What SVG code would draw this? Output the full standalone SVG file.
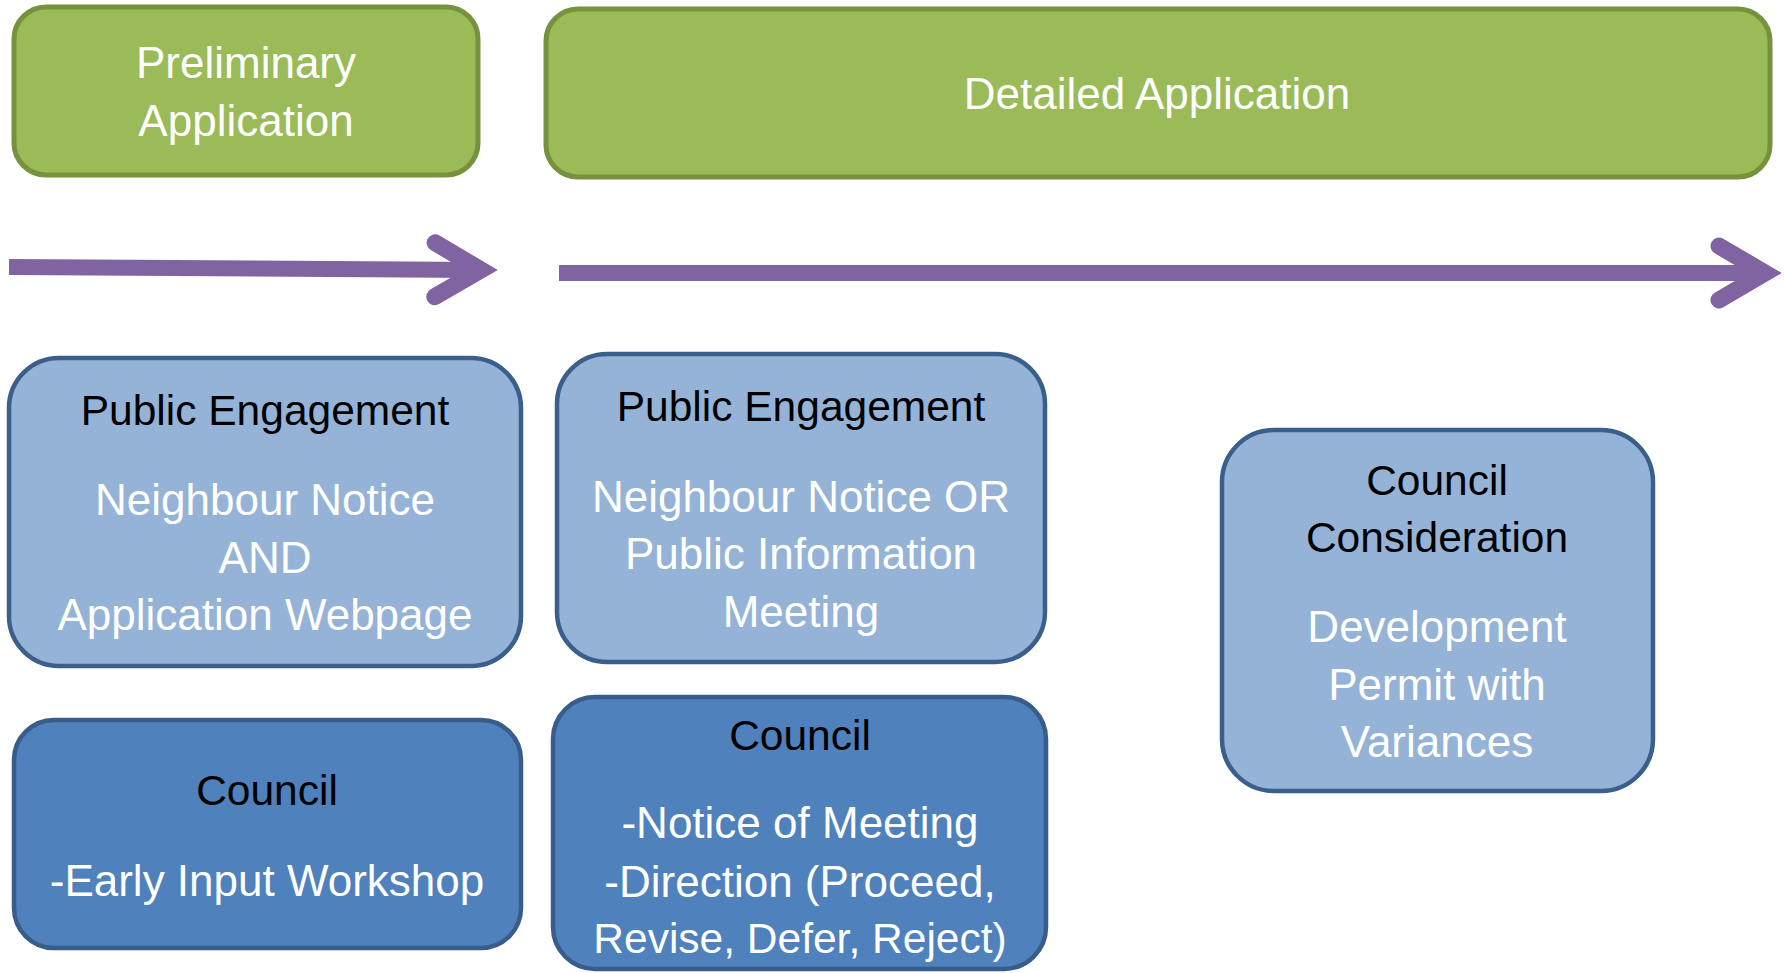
<svg xmlns="http://www.w3.org/2000/svg" width="1784" height="973" viewBox="0 0 1784 973">
<style>
.green{fill:#9BBB59;stroke:#76923C;stroke-width:5}
.light{fill:#95B3D7;stroke:#3A5F8B;stroke-width:4.5}
.dark{fill:#4F81BD;stroke:#385D8A;stroke-width:4.5}
text{font-family:"Liberation Sans",Arial,sans-serif;font-size:44px;text-anchor:middle}
.w{fill:#FFFFFF}
.k{fill:#000000;font-size:42.5px}
.flow{stroke:#8064A2;stroke-width:16;fill:none;stroke-linecap:butt}
</style>
<defs>
<marker id="chev" markerUnits="userSpaceOnUse" orient="auto" refX="0" refY="0" markerWidth="120" markerHeight="120" viewBox="-70 -60 120 120" overflow="visible">
<path d="M-46,-27 L0,0 L-46,27" fill="none" stroke="#8064A2" stroke-width="17" stroke-linecap="round" stroke-linejoin="miter" stroke-miterlimit="10"/>
</marker>
</defs>
<rect width="1784" height="973" fill="#FFFFFF"/>
<g id="prelim">
<rect class="green" x="14" y="7" width="464" height="168" rx="32" ry="32"/>
<text class="w" x="246" y="78">Preliminary</text>
<text class="w" x="246" y="136">Application</text>
</g>
<g id="detailed">
<rect class="green" x="546" y="9" width="1224" height="168" rx="32" ry="32"/>
<text class="w" x="1157" y="109">Detailed Application</text>
</g>
<g id="connectors">
<path class="flow" d="M9,267 L481,270" marker-end="url(#chev)"/>
<path class="flow" d="M559,273 L1765,273" marker-end="url(#chev)"/>
</g>
<g id="pe1">
<rect class="light" x="9" y="358" width="512" height="308" rx="50" ry="50"/>
<text class="k" x="265" y="425">Public Engagement</text>
<text class="w" x="265" y="515">Neighbour Notice</text>
<text class="w" x="265" y="573">AND</text>
<text class="w" x="265" y="630">Application Webpage</text>
</g>
<g id="pe2">
<rect class="light" x="557" y="354" width="488" height="308" rx="50" ry="50"/>
<text class="k" x="801" y="421">Public Engagement</text>
<text class="w" x="801" y="512">Neighbour Notice OR</text>
<text class="w" x="801" y="569">Public Information</text>
<text class="w" x="801" y="627">Meeting</text>
</g>
<g id="council-consideration">
<rect class="light" x="1222" y="430" width="431" height="361" rx="52" ry="52"/>
<text class="k" x="1437" y="495">Council</text>
<text class="k" x="1437" y="552">Consideration</text>
<text class="w" x="1437" y="642">Development</text>
<text class="w" x="1437" y="700">Permit with</text>
<text class="w" x="1437" y="757">Variances</text>
</g>
<g id="council1">
<rect class="dark" x="14" y="720" width="507" height="228" rx="40" ry="40"/>
<text class="k" x="267" y="805">Council</text>
<text class="w" x="267" y="896">-Early Input Workshop</text>
</g>
<g id="council2">
<rect class="dark" x="553" y="697" width="493" height="272" rx="42" ry="42"/>
<text class="k" x="800" y="750">Council</text>
<text class="w" x="800" y="838">-Notice of Meeting</text>
<text class="w" x="800" y="897">-Direction (Proceed,</text>
<text class="w" x="800" y="953" style="font-size:42.5px">Revise, Defer, Reject)</text>
</g>
</svg>
